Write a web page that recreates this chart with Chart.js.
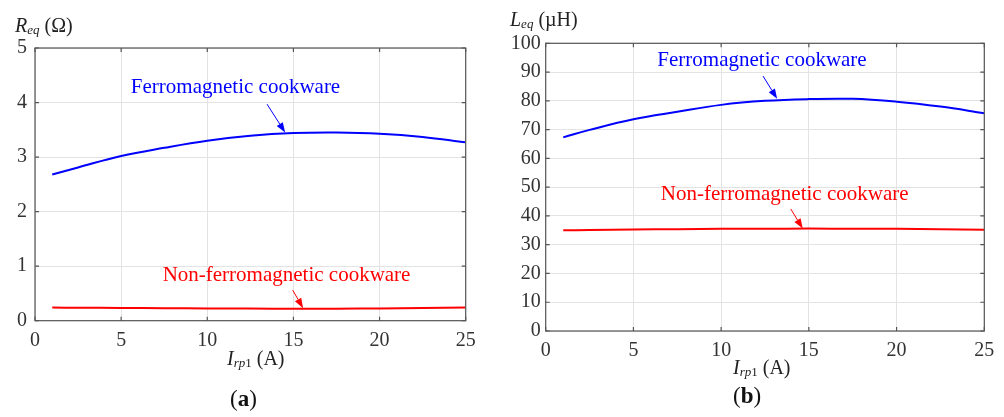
<!DOCTYPE html>
<html><head><meta charset="utf-8">
<script src="https://cdn.jsdelivr.net/npm/chart.js@4.4.0/dist/chart.umd.min.js"></script>
<style>
html,body{margin:0;padding:0;background:#fff;}
#wrap{position:relative;width:1004px;height:417px;overflow:hidden;background:#fff;}
.c{position:absolute;top:0;}
</style></head><body>
<div id="wrap">
<canvas id="ca" class="c" width="500" height="417" style="left:0"></canvas>
<canvas id="cb" class="c" width="504" height="417" style="left:500px"></canvas>
</div>
<script>
// ---- data ----
const currentA     = [1, 2.5, 5, 7.5, 10, 12.5, 15, 17.5, 20, 22.5, 25];
const reqFerro     = [2.68, 2.81, 3.02, 3.17, 3.30, 3.39, 3.44, 3.45, 3.43, 3.37, 3.27];
const reqNonFerro  = [0.24, 0.238, 0.235, 0.23, 0.225, 0.222, 0.22, 0.221, 0.225, 0.232, 0.24];
const leqFerro     = [67.3, 69.9, 73.6, 76.2, 78.6, 80.0, 80.6, 80.7, 79.7, 78.0, 75.7];
const leqNonFerro  = [35.0, 35.1, 35.3, 35.4, 35.5, 35.55, 35.6, 35.55, 35.5, 35.35, 35.2];
const xTicks   = [0, 5, 10, 15, 20, 25];
const reqTicks = [0, 1, 2, 3, 4, 5];
const leqTicks = [0, 10, 20, 30, 40, 50, 60, 70, 80, 90, 100];
const labelFerro = 'Ferromagnetic cookware';
const labelNon   = 'Non-ferromagnetic cookware';

const FONT = '"Liberation Serif", "DejaVu Serif", serif';
const BLUE = '#0000ff', RED = '#ff0000';
Chart.defaults.font.family = FONT;

function pts(xs, ys){ return xs.map((x,i)=>({x:x, y:ys[i]})); }

function drawRich(ctx, x, y, segs, color){
  ctx.fillStyle = color || '#222';
  ctx.textBaseline = 'alphabetic';
  ctx.textAlign = 'left';
  for (const s of segs){
    ctx.font = (s.style||'normal') + ' ' + (s.weight||'normal') + ' ' + s.size + 'px ' + FONT;
    ctx.fillText(s.t, x, y + (s.dy||0));
    x += ctx.measureText(s.t).width;
  }
}
function arrow(ctx, x1, y1, x2, y2, color){
  const a = Math.atan2(y2-y1, x2-x1), L = 10, W = 3.6;
  const bx = x2 - L*Math.cos(a), by = y2 - L*Math.sin(a);
  ctx.strokeStyle = color; ctx.fillStyle = color; ctx.lineWidth = 1;
  ctx.beginPath(); ctx.moveTo(x1,y1); ctx.lineTo(bx,by); ctx.stroke();
  ctx.beginPath(); ctx.moveTo(x2,y2);
  ctx.lineTo(bx + W*Math.sin(a), by - W*Math.cos(a));
  ctx.lineTo(bx - W*Math.sin(a), by + W*Math.cos(a));
  ctx.closePath(); ctx.fill();
}

const decorPlugin = {
  id: 'decor',
  afterDraw(chart, args, o){
    const ctx = chart.ctx, ca = chart.chartArea, xs = chart.scales.x, ys = chart.scales.y;
    ctx.save();
    // box
    ctx.strokeStyle = '#555'; ctx.lineWidth = 1.2;
    ctx.strokeRect(ca.left, ca.top, ca.right-ca.left, ca.bottom-ca.top);
    // inner ticks
    ctx.beginPath();
    const T = 4;
    xs.ticks.forEach(t=>{ const p = xs.getPixelForValue(t.value);
      ctx.moveTo(p, ca.bottom); ctx.lineTo(p, ca.bottom - T);
      ctx.moveTo(p, ca.top); ctx.lineTo(p, ca.top + T); });
    ys.ticks.forEach(t=>{ const p = ys.getPixelForValue(t.value);
      ctx.moveTo(ca.left, p); ctx.lineTo(ca.left + T, p);
      ctx.moveTo(ca.right, p); ctx.lineTo(ca.right - T, p); });
    ctx.stroke();
    // annotations
    for (const an of o.notes){
      ctx.font = an.size + 'px ' + FONT;
      ctx.fillStyle = an.color; ctx.textAlign = 'center'; ctx.textBaseline = 'middle';
      ctx.fillText(an.text, xs.getPixelForValue(an.tx), ys.getPixelForValue(an.ty));
      arrow(ctx, xs.getPixelForValue(an.ax1), ys.getPixelForValue(an.ay1),
                 xs.getPixelForValue(an.ax2), ys.getPixelForValue(an.ay2), an.color);
    }
    // axis titles and panel label
    drawRich(ctx, o.yTitle.x, o.yTitle.y, o.yTitle.segs, '#222');
    drawRich(ctx, o.xTitle.x, o.xTitle.y, o.xTitle.segs, '#222');
    drawRich(ctx, o.panel.x, o.panel.y, o.panel.segs, '#111');
    ctx.restore();
  }
};

function makeChart(id, cfg){
  return new Chart(document.getElementById(id), {
    type: 'line',
    data: { datasets: [
      { data: pts(currentA, cfg.s1), borderColor: BLUE, borderWidth: 2, pointRadius: 0, tension: 0.4, fill: false },
      { data: pts(currentA, cfg.s2), borderColor: RED, borderWidth: 2, pointRadius: 0, tension: 0.4, fill: false }
    ]},
    options: {
      responsive: false, animation: false, events: [],
      layout: { padding: cfg.pad },
      plugins: { legend: {display:false}, tooltip: {enabled:false}, decor: cfg.decor },
      scales: {
        x: { type: 'linear', min: 0, max: 25,
             afterBuildTicks: s => { s.ticks = xTicks.map(v=>({value:v})); },
             afterFit: s => { s.height = 30; },
             grid: { color: '#e3e3e3', lineWidth: 1, drawTicks: false },
             border: { display: false },
             ticks: { color: '#333', font: { size: 20, family: FONT }, padding: 8, maxRotation: 0 } },
        y: { type: 'linear', min: cfg.ymin, max: cfg.ymax,
             afterBuildTicks: s => { s.ticks = cfg.yTicks.map(v=>({value:v})); },
             afterFit: s => { s.width = cfg.yw; },
             grid: { color: '#e3e3e3', lineWidth: 1, drawTicks: false },
             border: { display: false },
             ticks: { color: '#333', font: { size: 20, family: FONT }, padding: cfg.ypad } }
      }
    },
    plugins: [decorPlugin]
  });
}

makeChart('ca', {
  s1: reqFerro, s2: reqNonFerro, ymin: 0, ymax: 5, yTicks: reqTicks, yw: 35, ypad: 8,
  pad: { left: 0, right: 34.3, top: 48, bottom: 66.3 },
  decor: {
    notes: [
      { text: labelFerro, color: BLUE, size: 21, tx: 11.64, ty: 4.27, ax1: 13.47, ay1: 3.97, ax2: 14.52, ay2: 3.45 },
      { text: labelNon, color: RED, size: 21, tx: 14.6, ty: 0.82, ax1: 14.96, ay1: 0.56, ax2: 15.56, ay2: 0.23 }
    ],
    yTitle: { x: 15, y: 32, segs: [ {t:'R', style:'italic', size:20}, {t:'eq', style:'italic', size:13, dy:2}, {t:' (Ω)', size:20} ] },
    xTitle: { x: 227, y: 365, segs: [ {t:'I', style:'italic', size:20}, {t:'rp', style:'italic', size:13, dy:2}, {t:'1', size:13, dy:2}, {t:' (A)', size:20} ] },
    panel:  { x: 230, y: 406, segs: [ {t:'(', size:23}, {t:'a', weight:'bold', size:23}, {t:')', size:23} ] }
  }
});

makeChart('cb', {
  s1: leqFerro, s2: leqNonFerro, ymin: 0, ymax: 100, yTicks: leqTicks, yw: 45.7, ypad: 5,
  pad: { left: 0, right: 19.7, top: 43.3, bottom: 56 },
  decor: {
    notes: [
      { text: labelFerro, color: BLUE, size: 21, tx: 12.33, ty: 93.95, ax1: 12.39, ay1: 88.6, ax2: 13.19, ay2: 80.7 },
      { text: labelNon, color: RED, size: 21, tx: 13.62, ty: 47.6, ax1: 13.97, ay1: 42.4, ax2: 14.65, ay2: 35.6 }
    ],
    yTitle: { x: 10, y: 26, segs: [ {t:'L', style:'italic', size:20}, {t:'eq', style:'italic', size:13, dy:2}, {t:' (µH)', size:20} ] },
    xTitle: { x: 233, y: 374, segs: [ {t:'I', style:'italic', size:20}, {t:'rp', style:'italic', size:13, dy:2}, {t:'1', size:13, dy:2}, {t:' (A)', size:20} ] },
    panel:  { x: 233, y: 403, segs: [ {t:'(', size:23}, {t:'b', weight:'bold', size:23}, {t:')', size:23} ] }
  }
});
</script>
</body></html>
